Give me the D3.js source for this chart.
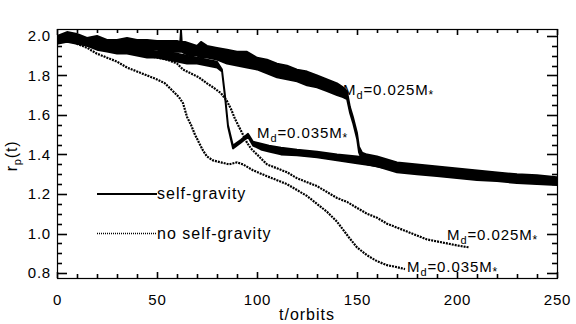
<!DOCTYPE html>
<html>
<head>
<meta charset="utf-8">
<script src="https://d3js.org/d3.v7.min.js"></script>
<style>
  body { margin: 0; background: #fff; }
  text { font-family: "Liberation Sans", Arial, sans-serif; fill: #000; }
</style>
</head>
<body>
<svg id="chart" width="576" height="324"></svg>
<script>
// self-gravity, Md = 0.025 (band: lo/hi envelope)
var sg25T  = [0, 5, 10, 15, 20, 25, 30, 35, 40, 45, 50, 55, 60, 61.6, 62, 62.4, 64, 67, 70, 72, 75, 80, 85, 90, 95, 100, 105, 110, 115, 120, 125, 130, 135, 140, 143, 145, 146.5, 148, 150, 151, 152.5, 155, 160, 170, 180, 190, 200, 210, 220, 230, 240, 250];
var sg25Hi = [2.00, 2.02, 2.01, 1.99, 2.00, 1.98, 1.98, 1.99, 1.98, 1.98, 1.975, 1.975, 1.975, 1.97, 2.035, 1.97, 1.97, 1.96, 1.95, 1.97, 1.95, 1.94, 1.93, 1.92, 1.92, 1.89, 1.88, 1.86, 1.85, 1.83, 1.82, 1.80, 1.78, 1.76, 1.74, 1.72, 1.64, 1.59, 1.51, 1.44, 1.41, 1.40, 1.39, 1.36, 1.35, 1.34, 1.33, 1.32, 1.31, 1.30, 1.295, 1.285];
var sg25Lo = [1.97, 1.98, 1.98, 1.96, 1.96, 1.94, 1.94, 1.94, 1.93, 1.93, 1.93, 1.92, 1.92, 1.92, 1.92, 1.92, 1.91, 1.90, 1.90, 1.89, 1.89, 1.88, 1.86, 1.85, 1.84, 1.83, 1.81, 1.79, 1.78, 1.77, 1.75, 1.74, 1.72, 1.70, 1.69, 1.68, 1.61, 1.56, 1.48, 1.41, 1.37, 1.35, 1.34, 1.31, 1.30, 1.29, 1.28, 1.27, 1.265, 1.255, 1.25, 1.245];

// self-gravity, Md = 0.035
var sg35T  = [0, 5, 10, 15, 20, 25, 30, 35, 40, 45, 50, 55, 60, 65, 70, 75, 80, 82.5, 84, 85.5, 88, 92, 95.5, 98, 102, 106, 112, 120, 130, 140, 150, 157, 165, 172, 180, 200, 220, 250];
var sg35Hi = [1.99, 2.00, 1.99, 1.97, 1.97, 1.96, 1.95, 1.95, 1.94, 1.93, 1.92, 1.92, 1.91, 1.90, 1.89, 1.88, 1.87, 1.83, 1.70, 1.55, 1.445, 1.475, 1.505, 1.465, 1.455, 1.445, 1.435, 1.425, 1.415, 1.40, 1.39, 1.38, 1.365, 1.35, 1.335, 1.315, 1.295, 1.275];
var sg35Lo = [1.96, 1.97, 1.96, 1.95, 1.93, 1.92, 1.91, 1.91, 1.90, 1.89, 1.89, 1.88, 1.87, 1.86, 1.86, 1.85, 1.84, 1.82, 1.69, 1.54, 1.43, 1.46, 1.49, 1.445, 1.425, 1.415, 1.40, 1.395, 1.385, 1.37, 1.355, 1.345, 1.33, 1.32, 1.305, 1.29, 1.27, 1.25];

// no self-gravity, Md = 0.025
var ns25T = [0, 5, 10, 15, 20, 25, 30, 35, 40, 45, 50, 55, 60, 63, 67, 71, 75, 78, 82, 85, 87, 89, 91, 93, 95, 97, 100, 103, 105, 110, 115, 120, 125, 130, 135, 140, 145, 150, 155, 160, 165, 170, 175, 180, 185, 190, 195, 200, 206];
var ns25R = [2.00, 1.99, 1.97, 1.96, 1.95, 1.94, 1.93, 1.92, 1.91, 1.90, 1.89, 1.88, 1.86, 1.83, 1.81, 1.79, 1.76, 1.74, 1.71, 1.67, 1.63, 1.58, 1.54, 1.50, 1.46, 1.43, 1.40, 1.37, 1.35, 1.33, 1.31, 1.28, 1.26, 1.24, 1.21, 1.18, 1.16, 1.13, 1.10, 1.08, 1.05, 1.03, 1.01, 0.99, 0.97, 0.96, 0.95, 0.94, 0.93];

// no self-gravity, Md = 0.035
var ns35T = [0, 5, 10, 15, 20, 25, 30, 35, 40, 45, 50, 54, 58, 61, 63, 65, 67, 69, 71, 73, 75, 78, 82, 86, 90, 93, 98, 105, 110, 115, 120, 125, 130, 135, 140, 143, 146, 150, 155, 160, 165, 170, 174];
var ns35R = [2.00, 1.98, 1.96, 1.94, 1.91, 1.89, 1.87, 1.84, 1.82, 1.80, 1.78, 1.76, 1.72, 1.69, 1.66, 1.59, 1.55, 1.50, 1.46, 1.42, 1.39, 1.37, 1.36, 1.35, 1.36, 1.35, 1.32, 1.29, 1.27, 1.25, 1.22, 1.19, 1.15, 1.11, 1.06, 1.02, 0.98, 0.93, 0.89, 0.86, 0.84, 0.83, 0.82];

var xTicks = [0, 50, 100, 150, 200, 250];
var yTicks = [0.8, 1.0, 1.2, 1.4, 1.6, 1.8, 2.0];

var legendT = [20, 50];
var legendR = [1.2, 1.0];
var legendLabels = ["self-gravity", "no self-gravity"];

var noteT = [143, 100, 195, 175];
var noteR = [1.70, 1.484, 0.967, 0.805];
var noteMass = ["0.025", "0.035", "0.025", "0.035"];

var svg = d3.select("#chart"),
    margin = { top: 29, right: 19, bottom: 46, left: 57 },
    width = svg.attr("width") - margin.left - margin.right,
    height = svg.attr("height") - margin.top - margin.bottom;

svg.append("rect").attr("width", 576).attr("height", 324).attr("fill", "#fff");

var x = d3.scaleLinear().domain([0, 250]).range([0, width]);
var y = d3.scaleLinear().domain([0.775, 2.035]).range([height, 0]);

var g = svg.append("g")
    .attr("transform", "translate(" + margin.left + "," + margin.top + ")");

g.append("defs").append("clipPath").attr("id", "clip")
    .append("rect").attr("width", width).attr("height", height);

var plot = g.append("g").attr("clip-path", "url(#clip)");

function pts(ts, rs) {
    return ts.map(function (t, i) { return [t, rs[i]]; });
}

var line = d3.line()
    .x(function (d) { return x(d[0]); })
    .y(function (d) { return y(d[1]); });

var area = d3.area()
    .x(function (d) { return x(d[0]); })
    .y0(function (d) { return y(d[1]); })
    .y1(function (d) { return y(d[2]); });

// dotted curves (no self-gravity)
[pts(ns25T, ns25R), pts(ns35T, ns35R)].forEach(function (d) {
    plot.append("path")
        .attr("d", line(d))
        .attr("fill", "none")
        .attr("stroke", "#000")
        .attr("stroke-width", 2.2)
        .attr("stroke-dasharray", "2,1");
});

// self-gravity bands
[[sg25T, sg25Lo, sg25Hi], [sg35T, sg35Lo, sg35Hi]].forEach(function (s) {
    var d = s[0].map(function (t, i) { return [t, s[1][i], s[2][i]]; });
    plot.append("path")
        .attr("d", area(d))
        .attr("fill", "#000")
        .attr("stroke", "#000")
        .attr("stroke-width", 1.8)
        .attr("stroke-linejoin", "round");
});

// tick labels from d3 axes (tick lines drawn separately below)
function styleAxis(sel) {
    sel.select(".domain").remove();
    sel.selectAll(".tick line").remove();
    sel.selectAll("text").style("font-size", "15px").style("letter-spacing", "0.8px")
        .attr("fill", "#000")
        .attr("font-family", "Liberation Sans, Arial, sans-serif");
}

g.append("g").attr("transform", "translate(0," + height + ")")
    .call(d3.axisBottom(x).tickValues(xTicks).tickSize(0).tickPadding(16).tickFormat(d3.format("d")))
    .call(styleAxis);
g.append("g")
    .call(d3.axisLeft(y).tickValues(yTicks).tickSize(0).tickPadding(6).tickFormat(d3.format(".1f")))
    .call(styleAxis);

// inward ticks on all four sides
var xMinor = d3.range(0, 251, 10);
var yMinor = d3.range(0.8, 2.03, 0.05);
var ticks = g.append("g").attr("stroke", "#000").attr("stroke-width", 1.6);

[[0, 1], [height, -1]].forEach(function (side) {
    ticks.selectAll(null).data(xMinor).enter().append("line")
        .attr("x1", function (d) { return Math.round(x(d)) + 0.5; })
        .attr("x2", function (d) { return Math.round(x(d)) + 0.5; })
        .attr("y1", side[0])
        .attr("y2", function (d) { return side[0] + side[1] * (d % 50 === 0 ? 6 : 4); });
});
[[0, 1], [width, -1]].forEach(function (side) {
    ticks.selectAll(null).data(yMinor).enter().append("line")
        .attr("y1", function (d) { return Math.round(y(d)) + 0.5; })
        .attr("y2", function (d) { return Math.round(y(d)) + 0.5; })
        .attr("x1", side[0])
        .attr("x2", function (d, i) { return side[0] + side[1] * (i % 4 === 0 ? 10 : 5); });
});

// frame
g.append("rect")
    .attr("x", 0.5).attr("y", 0.5)
    .attr("width", width).attr("height", height)
    .attr("fill", "none").attr("stroke", "#000").attr("stroke-width", 1.2);

// axis titles
svg.append("text")
    .attr("x", margin.left + width / 2)
    .attr("y", 320)
    .style("text-anchor", "middle")
    .style("font-size", "16px")
    .style("letter-spacing", "1px")
    .text("t/orbits");

var yl = svg.append("text")
    .attr("transform", "translate(17,156) rotate(-90)")
    .style("text-anchor", "middle")
    .style("font-size", "16px")
    .style("letter-spacing", "0.8px");
yl.append("tspan").text("r");
yl.append("tspan").attr("dy", 4).style("font-size", "11px").text("p");
yl.append("tspan").attr("dy", -4).text("(t)");

// legend
legendLabels.forEach(function (lab, i) {
    g.append("line")
        .attr("x1", x(legendT[0])).attr("x2", x(legendT[1]))
        .attr("y1", y(legendR[i])).attr("y2", y(legendR[i]))
        .attr("stroke", "#000")
        .attr("stroke-width", i === 0 ? 2 : 1.6)
        .attr("stroke-dasharray", i === 0 ? null : "1,1");
    g.append("text")
        .attr("x", x(legendT[1]))
        .attr("y", y(legendR[i]) + 5)
        .style("font-size", "16px")
        .style("letter-spacing", "1px")
        .text(lab);
});

// curve annotations
noteT.forEach(function (t, i) {
    var txt = g.append("text")
        .attr("x", x(t))
        .attr("y", y(noteR[i]))
        .style("font-size", "15px")
        .style("letter-spacing", "0.9px");
    txt.append("tspan").text("M");
    txt.append("tspan").attr("dy", 4).style("font-size", "11px").text("d");
    txt.append("tspan").attr("dy", -4).text("=" + noteMass[i] + "M");
    txt.append("tspan").attr("dy", 4).style("font-size", "12px").text("*");
});
</script>
</body>
</html>
